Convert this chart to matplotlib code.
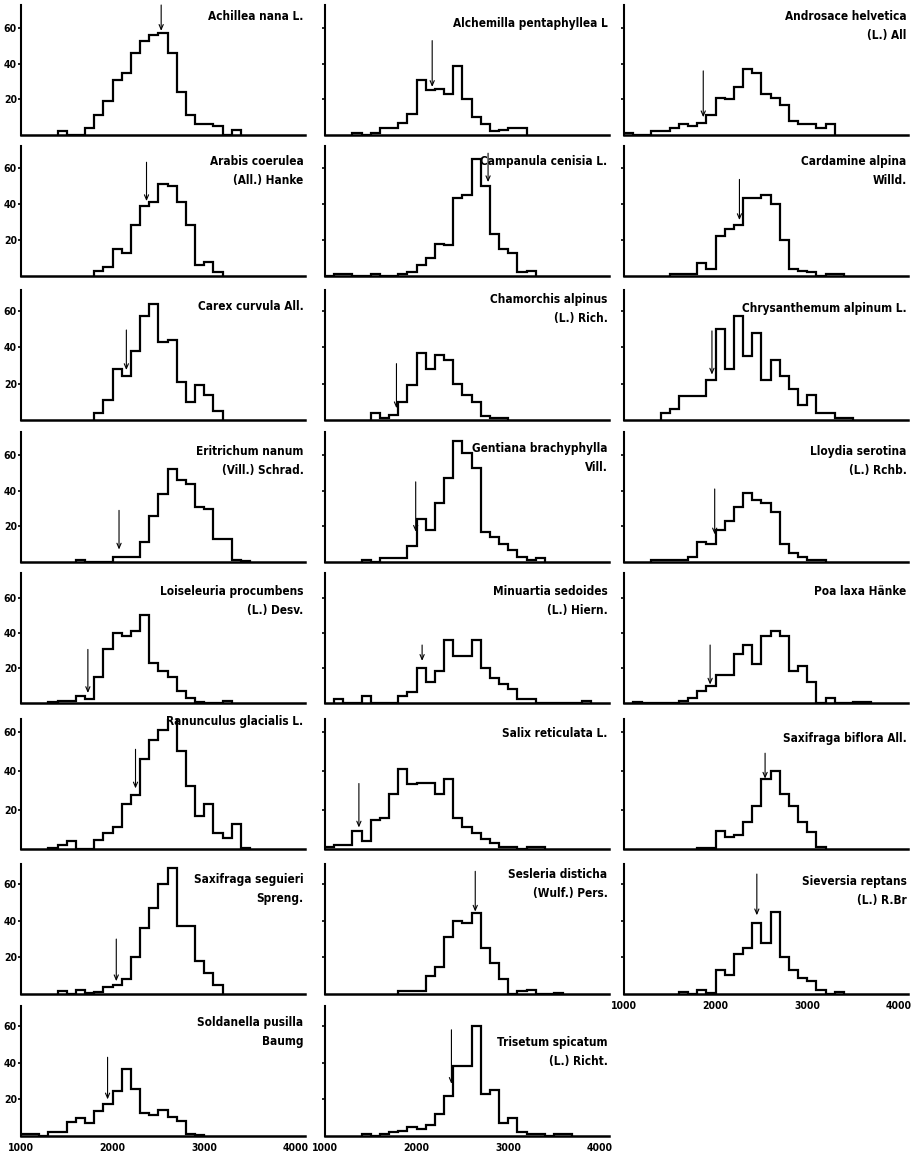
import matplotlib
matplotlib.use("Agg")
from matplotlib import pyplot as plt
from matplotlib import font_manager
import numpy as np

# the original lettering is a narrow bold face; pick the narrowest installed one
fonts = font_manager.fontManager.ttflist
names = {f.name for f in fonts}
stretch = 'normal'
if 'Liberation Sans Narrow' in names:
    family = ['Liberation Sans Narrow', 'DejaVu Sans']
    label_size, tick_size = 8.5, 7.5
elif any(f.name == 'DejaVu Sans' and f.stretch == 'condensed' for f in fonts):
    family = ['DejaVu Sans']
    stretch = 'condensed'
    label_size, tick_size = 8.5, 7.5
else:
    family = ['Liberation Sans', 'DejaVu Sans']
    label_size, tick_size = 7.6, 7.0
plt.rcParams['font.family'] = family
plt.rcParams['font.weight'] = 'bold'
plt.rcParams['font.stretch'] = stretch

# altitude classes of 100 m, counts
bin_width = 100

species = ["Achillea nana L.", "Alchemilla pentaphyllea L", "Androsace helvetica\n(L.) All",
           "Arabis coerulea\n(All.) Hanke", "Campanula cenisia L.", "Cardamine alpina\nWilld.",
           "Carex curvula All.", "Chamorchis alpinus\n(L.) Rich.", "Chrysanthemum alpinum L.",
           "Eritrichum nanum\n(Vill.) Schrad.", "Gentiana brachyphylla\nVill.", "Lloydia serotina\n(L.) Rchb.",
           "Loiseleuria procumbens\n(L.) Desv.", "Minuartia sedoides\n(L.) Hiern.", "Poa laxa Hänke",
           "Ranunculus glacialis L.", "Salix reticulata L.", "Saxifraga biflora All.",
           "Saxifraga seguieri\nSpreng.", "Sesleria disticha\n(Wulf.) Pers.", "Sieversia reptans\n(L.) R.Br",
           "Soldanella pusilla\nBaumg", "Trisetum spicatum\n(L.) Richt."]

starts = [1400, 1300, 1000, 1800, 1000, 1500, 1800, 1500, 1400, 1600, 1400, 1300,
          1300, 1100, 1100, 1300, 1000, 1800, 1400, 1800, 1600, 1000, 1400]

achillea = [2, 0, 0, 4, 11, 19, 31, 35, 46, 53, 56, 57, 46, 24, 11, 6, 6, 5, 0, 3]
alchemilla = [1, 0, 1, 4, 4, 7, 12, 31, 25, 26, 23, 39, 20, 10, 6, 2, 3, 4, 4]
androsace = [1, 0, 0, 2, 2, 4, 6, 5, 7, 11, 21, 20, 27, 37, 35, 23, 21, 17, 8, 6, 6, 4, 6]
arabis = [3, 5, 15, 13, 28, 39, 41, 51, 50, 41, 28, 6, 8, 2]
campanula = [0, 1, 1, 0, 0, 1, 0, 0, 1, 2, 6, 10, 18, 17, 43, 45, 65, 50, 23, 15, 13, 2, 3]
cardamine = [1, 1, 1, 7, 4, 22, 26, 28, 43, 43, 45, 40, 20, 4, 3, 2, 0, 1, 1]
carex = [4, 11, 28, 24, 38, 57, 64, 43, 44, 21, 10, 19, 14, 5]
chamorchis = [4, 1, 3, 10, 19, 37, 28, 36, 33, 20, 14, 10, 2, 1, 1]
chrysanthemum = [4, 6, 13, 13, 13, 22, 50, 28, 57, 35, 48, 22, 33, 24, 17, 8, 14, 4, 4, 1, 1]
eritrichum = [1, 0, 0, 0, 3, 3, 3, 11, 26, 38, 52, 46, 44, 31, 30, 13, 13, 1, 0.5]
gentiana = [1, 0, 2, 2, 2, 9, 24, 18, 33, 47, 68, 61, 53, 17, 14, 10, 7, 3, 1, 2]
lloydia = [1, 1, 1, 1, 3, 11, 10, 18, 23, 31, 39, 35, 33, 28, 10, 5, 3, 1, 1]
loiseleuria = [0.5, 1, 1, 4, 2, 15, 31, 40, 38, 41, 50, 23, 18, 15, 7, 3, 0.5, 0, 0, 1]
minuartia = [2, 0, 0, 4, 0, 0, 0, 4, 6, 20, 12, 18, 36, 27, 27, 36, 20, 14, 11, 8, 2, 2, 0, 0, 0, 0, 0, 1]
poa = [0.5, 0, 0, 0, 0, 1, 3, 7, 9.5, 16, 16, 28, 33, 22, 38, 41, 38, 18.5, 21, 12, 0, 3, 0, 0, 0.6, 0.6]
ranunculus = [0.7, 2, 4, 0, 0, 4.6, 8, 11.4, 23, 27.6, 46, 56, 61, 67, 50, 32, 17, 23, 8, 5.5, 12.6, 0.7]
salix = [1, 2, 2, 9, 4, 15, 16, 28, 41, 33, 34, 34, 28, 36, 16, 11, 8, 5, 3, 1, 1, 0, 1, 1]
sax_biflora = [0.5, 0.5, 9, 6, 7, 14, 22, 36, 40, 28, 22, 14, 8.5, 1]
sax_seguieri = [1.5, 0, 2.4, 0.5, 1, 4, 5, 8, 20, 36, 47, 60, 69, 37, 37, 18, 11.5, 5]
sesleria = [1.5, 1.5, 1.5, 10, 15, 31, 40, 39, 44, 25, 17, 8, 0, 1.5, 2, 0, 0, 0.5]
sieversia = [1, 0, 2.4, 0.5, 13, 10.5, 22, 25, 39, 28, 45, 20, 13, 9, 7, 2.4, 0, 1]
soldanella = [1.3, 1, 0, 2, 2, 7.6, 10, 7.3, 13.6, 17.3, 24.5, 36.4, 25.5, 12.7, 11.3, 14.2, 10.4, 8.2, 1.3, 0.5]
trisetum = [1, 0, 1, 2, 3, 5, 4, 6, 12, 22, 38, 38, 60, 23, 25, 7, 10, 2, 1, 1, 0, 1, 1]

counts = [achillea, alchemilla, androsace, arabis, campanula, cardamine, carex, chamorchis,
          chrysanthemum, eritrichum, gentiana, lloydia, loiseleuria, minuartia, poa, ranunculus,
          salix, sax_biflora, sax_seguieri, sesleria, sieversia, soldanella, trisetum]

# arrows: altitude, top of shaft, tip (in counts)
arrow_alt = [2530, 2170, 1865, 2370, 2780, 2260, 2150, 1780, 1960, 2070, 1990, 1990,
             1730, 2060, 1940, 2250, 1370, 2540, 2040, 2640, 2450, 1945, 2380]
arrow_tail = [73, 53, 36, 63, 68, 53.5, 49.5, 31, 49, 29, 45, 41,
              30.5, 33, 33, 51, 33.5, 49, 30, 67, 65.5, 43, 58]
arrow_tip = [58.5, 27, 10, 41.5, 52, 31, 27.5, 6.5, 25, 7, 17, 15.5,
             5.7, 24, 10.5, 31, 11, 36, 7, 45, 43, 20, 28.5]

x_ticks = [1000, 2000, 3000, 4000]
y_ticks = [20, 40, 60]

# layout in pixels of the 917x1160 page
W, H = 917, 1160
col_px = [21, 325, 624]
panel_w, panel_h = 284, 130
row_base = [135, 276, 420, 562, 703, 849, 994, 1136]
row_ymax = [73, 72, 71.5, 73, 74, 66.5, 71, 71]
label_drop = [10, 17, 10, 14, 14, 14, 15, 8, 17, 18, 15, 18,
              17, 17, 17, 1, 13, 18, 14, 9, 16, 15, 35]
bottom_panels = [20, 21, 22]

fig = plt.figure(figsize=(W / 100, H / 100), dpi=100)

for i in range(len(species)):
    r, c = i // 3, i % 3
    ax = fig.add_axes([col_px[c] / W, 1 - row_base[r] / H, panel_w / W, panel_h / H])
    vals = np.array(counts[i], dtype=float)
    edges = starts[i] + bin_width * np.arange(len(vals) + 1)
    ax.stairs(vals, edges, baseline=0, fill=False, color='black', lw=1.6)
    ax.annotate('', xy=(arrow_alt[i], arrow_tip[i]), xytext=(arrow_alt[i], arrow_tail[i]),
                arrowprops=dict(arrowstyle='->,head_length=0.35,head_width=0.15',
                                lw=0.8, color='black', shrinkA=0, shrinkB=0),
                annotation_clip=False)
    ax.text(0.995, 1 - (label_drop[i] - 5) / panel_h, species[i], transform=ax.transAxes,
            ha='right', va='top', fontsize=label_size, fontweight='bold',
            fontstretch=stretch, linespacing=1.6)

    ax.set_xlim(1000, 4100)
    ax.set_ylim(0, row_ymax[r])
    for side in ['top', 'right']:
        ax.spines[side].set_visible(False)
    ax.spines['left'].set_linewidth(1.5)
    ax.spines['bottom'].set_linewidth(1.8)

    ax.set_yticks(y_ticks)
    ax.tick_params(axis='y', direction='out', length=2.5, width=1.2, pad=0.5, labelsize=tick_size)
    if c != 0:
        ax.set_yticklabels([])
    if i in bottom_panels:
        ax.set_xticks(x_ticks)
        ax.tick_params(axis='x', length=0, pad=5, labelsize=tick_size)
    else:
        ax.set_xticks([])
    for lab in ax.get_xticklabels() + ax.get_yticklabels():
        lab.set_fontweight('bold')
        lab.set_fontstretch(stretch)

fig.savefig('out.png', dpi=100)
